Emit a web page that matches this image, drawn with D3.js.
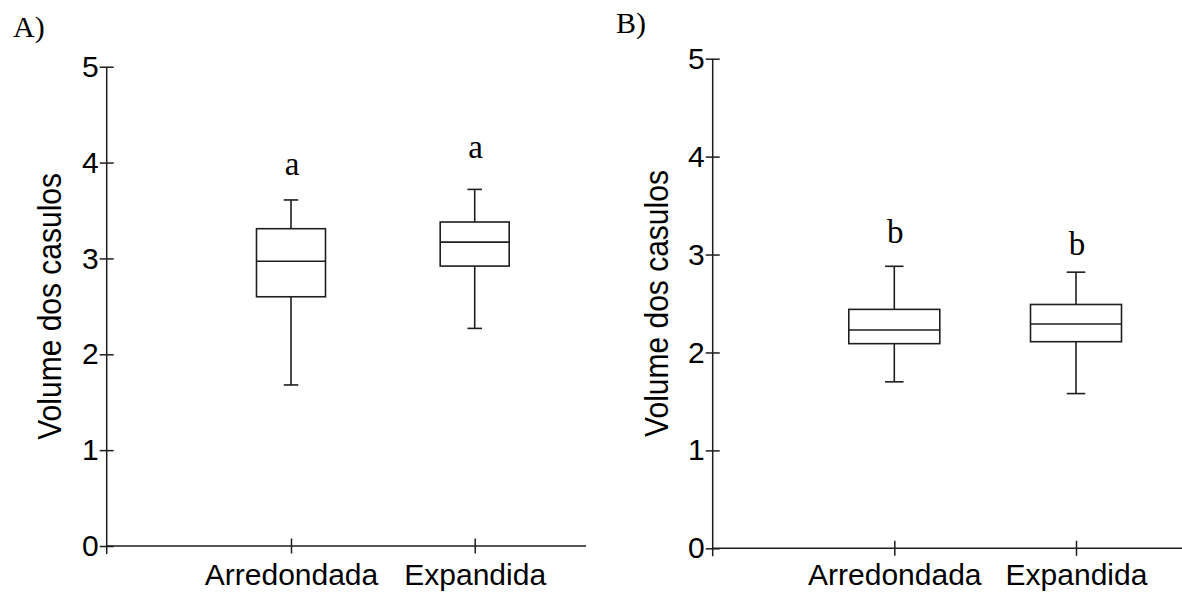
<!DOCTYPE html>
<html>
<head>
<meta charset="utf-8">
<script src="https://cdn.jsdelivr.net/npm/d3@7"></script>
<style>
  html, body { margin: 0; padding: 0; background: #fff; }
  svg { display: block; }
  .tick text { font-family: "Liberation Sans", Arial, sans-serif; font-size: 30px; fill: #000; }
  .tick line { stroke: #1e1e1e; stroke-width: 1.5; }
</style>
</head>
<body>
<svg id="chart" width="1182" height="592"></svg>
<script>
// Cocoon volume by shape — two panels of box plots
const categories = ["Arredondada", "Expandida"];
const yTicks = [0, 1, 2, 3, 4, 5];

// Panel A
const lowA    = [1.68, 2.27];
const q1A     = [2.60, 2.92];
const medianA = [2.97, 3.17];
const q3A     = [3.31, 3.38];
const highA   = [3.61, 3.72];
const lettersA = ["a", "a"];
const letterLevelA = [3.87, 4.05];

// Panel B
const lowB    = [1.70, 1.58];
const q1B     = [2.09, 2.11];
const medianB = [2.23, 2.29];
const q3B     = [2.44, 2.49];
const highB   = [2.88, 2.82];
const lettersB = ["b", "b"];
const letterLevelB = [3.12, 3.00];

const yTitle = "Volume dos casulos";

const svg = d3.select("#chart");
const ink = "#1e1e1e";

function panel(o) {
  const y = d3.scaleLinear().domain([0, 5]).range([o.y0, o.y5]);
  const x = d3.scalePoint().domain(categories).range(o.xRange);
  const g = svg.append("g");

  // panel tag
  g.append("text")
    .attr("x", o.tagX).attr("y", o.tagY)
    .attr("font-family", "Liberation Serif, Times New Roman, serif")
    .attr("font-size", 30)
    .text(o.tag);

  // y axis: labelled ticks on the left, plain ticks on the right so they cross the line
  const yl = g.append("g").attr("transform", `translate(${o.axisX},0)`)
    .call(d3.axisLeft(y).tickValues(yTicks).tickFormat(d3.format("d")).tickSize(7).tickPadding(1));
  const yr = g.append("g").attr("transform", `translate(${o.axisX},0)`)
    .call(d3.axisRight(y).tickValues(yTicks).tickFormat("").tickSize(7));
  yl.selectAll(".domain").remove();
  yr.selectAll(".domain").remove();
  g.append("line")
    .attr("x1", o.axisX).attr("x2", o.axisX)
    .attr("y1", y(5)).attr("y2", y(0) + 8)
    .attr("stroke", ink).attr("stroke-width", 1.5);

  // x axis
  const xb = g.append("g").attr("transform", `translate(0,${y(0)})`)
    .call(d3.axisBottom(x).tickSize(7.5));
  const xt = g.append("g").attr("transform", `translate(0,${y(0)})`)
    .call(d3.axisTop(x).tickSize(7.5).tickFormat(""));
  xb.selectAll(".domain").remove();
  xt.selectAll(".domain").remove();
  xb.selectAll(".tick text").attr("y", o.labelDy).attr("dy", 0);
  g.append("line")
    .attr("x1", o.axisX).attr("x2", o.xEnd)
    .attr("y1", y(0)).attr("y2", y(0))
    .attr("stroke", ink).attr("stroke-width", 1.5);

  // y title (glyphs drawn slightly tall)
  g.append("text")
    .attr("transform", `translate(${o.titleX},${(y(0) + y(5)) / 2}) rotate(-90) scale(1,1.12)`)
    .attr("text-anchor", "middle")
    .attr("font-family", "Liberation Sans, Arial, sans-serif")
    .attr("font-size", 30)
    .text(yTitle);

  const d = categories.map((c, i) => ({
    c, low: o.low[i], q1: o.q1[i], med: o.med[i], q3: o.q3[i], high: o.high[i],
    letter: o.letters[i], level: o.levels[i]
  }));
  const bw = o.boxW, cw = o.capW;
  const boxes = g.append("g").selectAll("g").data(d).join("g")
    .attr("fill", "none").attr("stroke", ink).attr("stroke-width", 1.6);

  // whiskers
  boxes.append("line")
    .attr("x1", b => x(b.c)).attr("x2", b => x(b.c))
    .attr("y1", b => y(b.high)).attr("y2", b => y(b.q3));
  boxes.append("line")
    .attr("x1", b => x(b.c)).attr("x2", b => x(b.c))
    .attr("y1", b => y(b.q1)).attr("y2", b => y(b.low));
  boxes.append("line")
    .attr("x1", b => x(b.c) - cw / 2).attr("x2", b => x(b.c) + cw / 2)
    .attr("y1", b => y(b.high)).attr("y2", b => y(b.high));
  boxes.append("line")
    .attr("x1", b => x(b.c) - cw / 2).attr("x2", b => x(b.c) + cw / 2)
    .attr("y1", b => y(b.low)).attr("y2", b => y(b.low));
  // box and median
  boxes.append("rect")
    .attr("x", b => x(b.c) - bw / 2).attr("width", bw)
    .attr("y", b => y(b.q3)).attr("height", b => y(b.q1) - y(b.q3))
    .attr("fill", "#fff");
  boxes.append("line")
    .attr("x1", b => x(b.c) - bw / 2).attr("x2", b => x(b.c) + bw / 2)
    .attr("y1", b => y(b.med)).attr("y2", b => y(b.med));

  // significance letters
  g.append("g").selectAll("text").data(d).join("text")
    .attr("x", b => x(b.c) + 1).attr("y", b => y(b.level))
    .attr("text-anchor", "middle")
    .attr("font-family", "Liberation Serif, Times New Roman, serif")
    .attr("font-size", 33)
    .text(b => b.letter);
}

panel({
  tag: "A)", tagX: 13, tagY: 36.5,
  axisX: 106.7, y0: 546, y5: 66.7, xRange: [291, 474.7], xEnd: 586,
  labelDy: 39, titleX: 61, boxW: 69, capW: 14.5,
  low: lowA, q1: q1A, med: medianA, q3: q3A, high: highA,
  letters: lettersA, levels: letterLevelA
});

panel({
  tag: "B)", tagX: 616, tagY: 33.3,
  axisX: 712.7, y0: 548.3, y5: 58.7, xRange: [894.3, 1076], xEnd: 1182,
  labelDy: 37, titleX: 668, boxW: 91, capW: 18.5,
  low: lowB, q1: q1B, med: medianB, q3: q3B, high: highB,
  letters: lettersB, levels: letterLevelB
});
</script>
</body>
</html>
